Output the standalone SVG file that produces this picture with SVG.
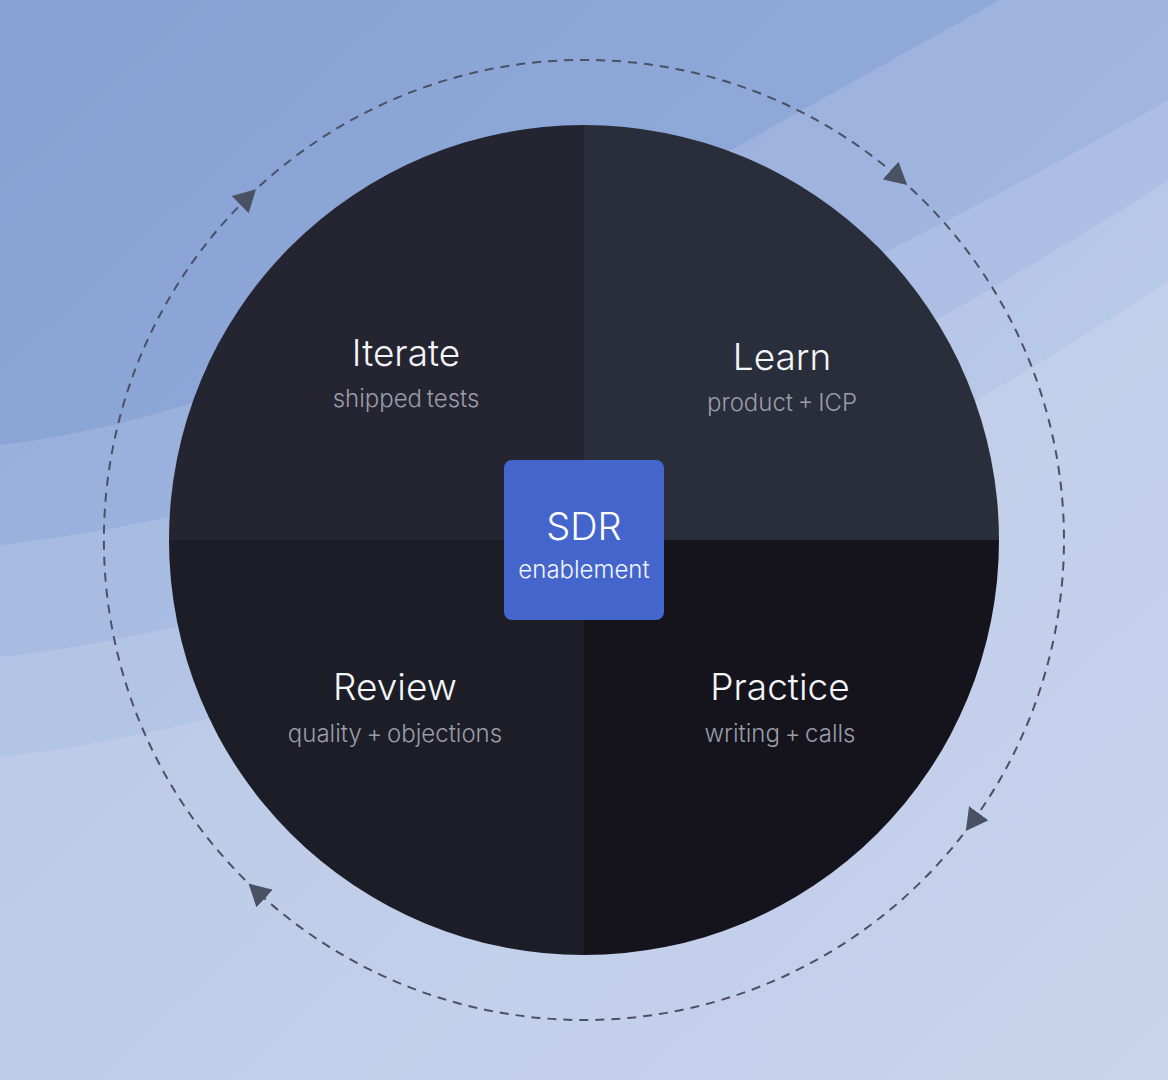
<svg xmlns="http://www.w3.org/2000/svg" width="1168" height="1080" viewBox="0 0 1168 1080">
  <defs>
    <linearGradient id="bg" x1="0" y1="0" x2="1" y2="1">
      <stop offset="0" stop-color="#87a1d4"/>
      <stop offset="0.5" stop-color="#91aadb"/>
      <stop offset="1" stop-color="#a4b7e2"/>
    </linearGradient>
    <marker id="arrow" viewBox="0 0 22 24" refX="11" refY="12" markerWidth="22" markerHeight="24" markerUnits="userSpaceOnUse" orient="auto">
      <path d="M0,0 L22,12 L0,24 Z" fill="#4a5163"/>
    </marker>
    <style>
      .band { fill: #ffffff; fill-opacity: 0.13; }
      .cycle { fill: none; stroke: #4a5163; stroke-width: 2; stroke-dasharray: 9 7; }
      .title { font-family: Inter, "Liberation Sans", sans-serif; font-weight: 300; font-size: 37px; fill: #f4f5f8; text-anchor: middle; }
      .sub { font-family: Inter, "Liberation Sans", sans-serif; font-weight: 300; font-size: 24px; word-spacing: -2px; fill: #9a9da9; text-anchor: middle; }
      .hubt { font-family: Inter, "Liberation Sans", sans-serif; font-weight: 300; font-size: 38px; fill: #ffffff; text-anchor: middle; }
      .hubs { font-family: Inter, "Liberation Sans", sans-serif; font-weight: 300; font-size: 24px; fill: #f2f4fc; text-anchor: middle; }
    </style>
  </defs>

  <g id="background">
    <rect x="0" y="0" width="1168" height="1080" fill="url(#bg)"/>
    <path class="band" d="M0,445 C300,410 600,220 1000,0 L1168,0 L1168,1080 L0,1080 Z"/>
    <path class="band" d="M0,545 C350,505 750,340 1168,100 L1168,1080 L0,1080 Z"/>
    <path class="band" d="M0,657 C350,620 800,420 1168,180 L1168,1080 L0,1080 Z"/>
    <path class="band" d="M0,757 C350,720 850,500 1168,280 L1168,1080 L0,1080 Z"/>
  </g>

  <g id="connectors">
    <path class="cycle" d="M256.6,891.1 A480,480 0 0 1 248.1,197.0" marker-end="url(#arrow)"/>
    <path class="cycle" d="M248.1,197.0 A480,480 0 0 1 898.9,177.7" marker-end="url(#arrow)"/>
    <path class="cycle" d="M898.9,177.7 A480,480 0 0 1 972.3,822.1" marker-end="url(#arrow)"/>
    <path class="cycle" d="M972.3,822.1 A480,480 0 0 1 256.6,891.1" marker-end="url(#arrow)"/>
  </g>

  <g id="node-iterate">
    <path d="M584,540 L169,540 A415,415 0 0 1 584,125 Z" fill="#252431"/>
    <text class="title" x="406" y="366">Iterate</text>
    <text class="sub" x="406" y="407">shipped tests</text>
  </g>
  <g id="node-learn">
    <path d="M584,540 L584,125 A415,415 0 0 1 999,540 Z" fill="#2a2d3a"/>
    <text class="title" x="782" y="370">Learn</text>
    <text class="sub" x="782" y="411">product + ICP</text>
  </g>
  <g id="node-practice">
    <path d="M584,540 L999,540 A415,415 0 0 1 584,955 Z" fill="#15141d"/>
    <text class="title" x="780" y="700">Practice</text>
    <text class="sub" x="780" y="742">writing + calls</text>
  </g>
  <g id="node-review">
    <path d="M584,540 L584,955 A415,415 0 0 1 169,540 Z" fill="#1c1d26"/>
    <text class="title" x="395" y="700">Review</text>
    <text class="sub" x="395" y="742">quality + objections</text>
  </g>

  <g id="node-hub">
    <rect x="504" y="460" width="160" height="160" rx="8" fill="#4466cc"/>
    <text class="hubt" x="584" y="540">SDR</text>
    <text class="hubs" x="584" y="578">enablement</text>
  </g>
</svg>
